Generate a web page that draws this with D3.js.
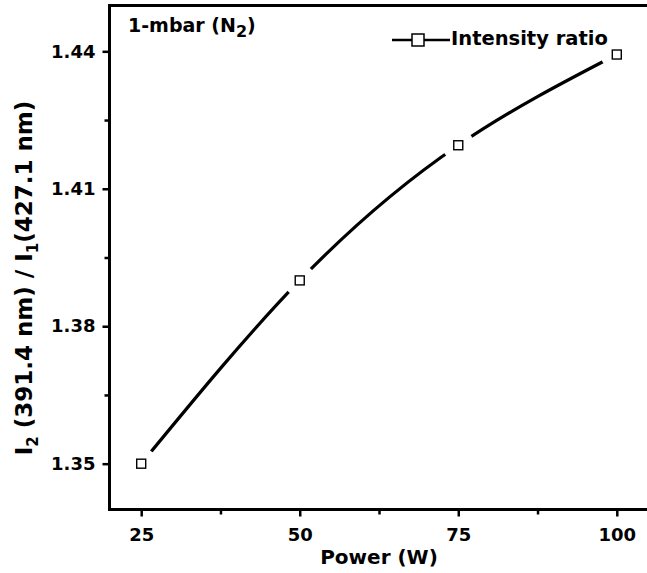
<!DOCTYPE html>
<html>
<head>
<meta charset="utf-8">
<script src="https://cdn.jsdelivr.net/npm/d3@7"></script>
<style>
  body { margin: 0; background: #fff; }
  svg text { font-family: "DejaVu Sans", sans-serif; font-weight: bold; fill: #000; }
</style>
</head>
<body>
<svg id="chart" width="647" height="573"></svg>
<script>
// data
const powers = [25, 50, 75, 100];
const ratios = [1.350, 1.390, 1.4195, 1.4393];
const xTicks = [25, 50, 75, 100];
const xMinor = [37.5, 62.5, 87.5];
const yTicks = [1.35, 1.38, 1.41, 1.44];
const yMinor = [1.365, 1.395, 1.425];
const seriesName = "Intensity ratio";

const svg = d3.select("#chart");

const x = d3.scaleLinear().domain([20, 105]).range([109.5, 648.5]);
const y = d3.scaleLinear().domain([1.34, 1.45]).range([509.5, 5.5]);

// frame (right side falls off the picture)
svg.append("rect")
    .attr("x", x(20)).attr("y", y(1.45))
    .attr("width", x(105) - x(20)).attr("height", y(1.34) - y(1.45))
    .attr("fill", "none").attr("stroke", "#000").attr("stroke-width", 3);

// axes
const xAxis = svg.append("g")
    .attr("transform", "translate(0," + y(1.34) + ")")
    .call(d3.axisBottom(x).tickValues(xTicks).tickSize(7).tickPadding(12).tickFormat(d3.format("d")));
svg.append("g")
    .attr("transform", "translate(0," + y(1.34) + ")")
    .call(d3.axisBottom(x).tickValues(xMinor).tickSize(5).tickFormat(""));

const yAxis = svg.append("g")
    .attr("transform", "translate(" + x(20) + ",0)")
    .call(d3.axisLeft(y).tickValues(yTicks).tickSize(7).tickPadding(7).tickFormat(d3.format(".2f")));
svg.append("g")
    .attr("transform", "translate(" + x(20) + ",0)")
    .call(d3.axisLeft(y).tickValues(yMinor).tickSize(5).tickFormat(""));

svg.selectAll(".domain").remove();
svg.selectAll(".tick line").attr("stroke", "#000").attr("stroke-width", 2.5);
svg.selectAll(".tick text").style("font-size", "18px").attr("fill", "#000");

// curve through the points
const pts = powers.map((p, i) => [x(p), y(ratios[i])]);
svg.append("path")
    .datum(pts)
    .attr("d", d3.line().curve(d3.curveNatural))
    .attr("fill", "none")
    .attr("stroke", "#000")
    .attr("stroke-width", 3.2)
    .attr("stroke-linecap", "round");

// gaps around the symbols
svg.selectAll(".gap")
    .data(pts)
    .enter().append("circle")
    .attr("class", "gap")
    .attr("cx", d => d[0]).attr("cy", d => d[1])
    .attr("r", 16).attr("fill", "#fff");

svg.selectAll(".sym")
    .data(pts)
    .enter().append("rect")
    .attr("class", "sym")
    .attr("x", d => d[0] - 4.5).attr("y", d => d[1] - 4.5)
    .attr("width", 9).attr("height", 9)
    .attr("fill", "#fff").attr("stroke", "#000").attr("stroke-width", 1.4);

// legend
svg.append("line")
    .attr("x1", 392).attr("x2", 450).attr("y1", 40).attr("y2", 40)
    .attr("stroke", "#000").attr("stroke-width", 2.5);
svg.append("rect")
    .attr("x", 412).attr("y", 34).attr("width", 12).attr("height", 12)
    .attr("fill", "#fff").attr("stroke", "#000").attr("stroke-width", 1.5);
svg.append("text")
    .attr("x", 451).attr("y", 45)
    .style("font-size", "19.5px")
    .text(seriesName);

// condition label
const cond = svg.append("text")
    .attr("x", 128).attr("y", 32)
    .style("font-size", "19px");
cond.append("tspan").text("1-mbar (N");
cond.append("tspan").attr("dy", 5).style("font-size", "16px").text("2");
cond.append("tspan").attr("dy", -5).text(")");

// axis titles
svg.append("text")
    .attr("x", 379).attr("y", 564)
    .attr("text-anchor", "middle")
    .style("font-size", "20px")
    .text("Power (W)");

const yt = svg.append("text")
    .attr("transform", "translate(32,278) rotate(-90)")
    .attr("text-anchor", "middle")
    .style("font-size", "23px");
yt.append("tspan").text("I");
yt.append("tspan").attr("dy", 6).style("font-size", "15px").text("2");
yt.append("tspan").attr("dy", -6).text(" (391.4 nm) / I");
yt.append("tspan").attr("dy", 6).style("font-size", "15px").text("1");
yt.append("tspan").attr("dy", -6).text("(427.1 nm)");
</script>
</body>
</html>
